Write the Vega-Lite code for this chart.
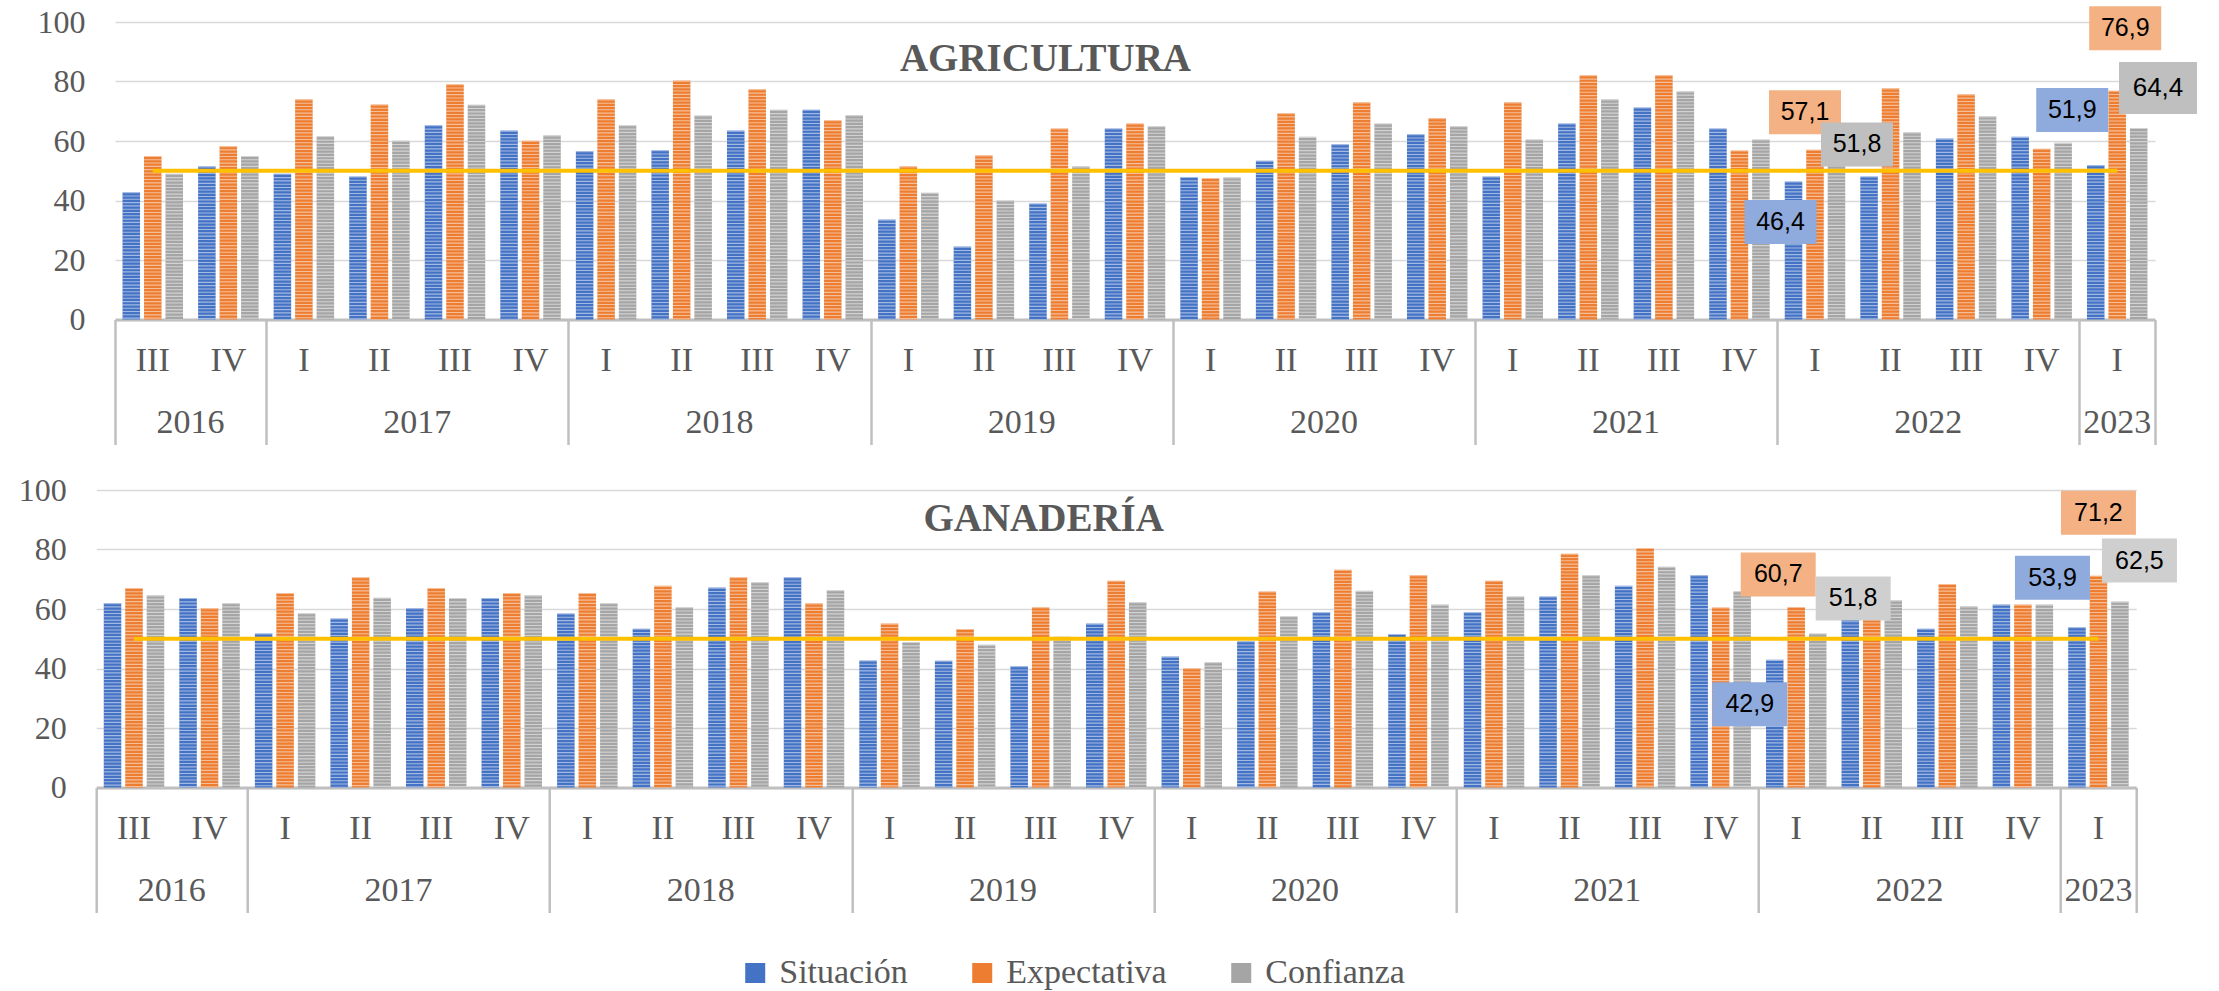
{
  "$schema": "https://vega.github.io/schema/vega-lite/v6.json",
  "background": "white",
  "padding": {"left": 18, "top": 6, "right": 5, "bottom": 0},
  "config": {
    "view": {"stroke": null},
    "locale": {"number": {"decimal": ",", "thousands": ".", "grouping": [3], "currency": ["", " €"]}}
  },
  "data": {"values": [
    {"sector":"Agricultura","q":"2016-III","serie":"Situación","value":42.8},{"sector":"Agricultura","q":"2016-III","serie":"Expectativa","value":55.0},{"sector":"Agricultura","q":"2016-III","serie":"Confianza","value":49.0},
    {"sector":"Agricultura","q":"2016-IV","serie":"Situación","value":51.5},{"sector":"Agricultura","q":"2016-IV","serie":"Expectativa","value":58.3},{"sector":"Agricultura","q":"2016-IV","serie":"Confianza","value":55.0},
    {"sector":"Agricultura","q":"2017-I","serie":"Situación","value":49.0},{"sector":"Agricultura","q":"2017-I","serie":"Expectativa","value":74.0},{"sector":"Agricultura","q":"2017-I","serie":"Confianza","value":61.6},
    {"sector":"Agricultura","q":"2017-II","serie":"Situación","value":48.1},{"sector":"Agricultura","q":"2017-II","serie":"Expectativa","value":72.3},{"sector":"Agricultura","q":"2017-II","serie":"Confianza","value":60.1},
    {"sector":"Agricultura","q":"2017-III","serie":"Situación","value":65.3},{"sector":"Agricultura","q":"2017-III","serie":"Expectativa","value":79.1},{"sector":"Agricultura","q":"2017-III","serie":"Confianza","value":72.2},
    {"sector":"Agricultura","q":"2017-IV","serie":"Situación","value":63.5},{"sector":"Agricultura","q":"2017-IV","serie":"Expectativa","value":60.1},{"sector":"Agricultura","q":"2017-IV","serie":"Confianza","value":61.9},
    {"sector":"Agricultura","q":"2018-I","serie":"Situación","value":56.6},{"sector":"Agricultura","q":"2018-I","serie":"Expectativa","value":74.0},{"sector":"Agricultura","q":"2018-I","serie":"Confianza","value":65.3},
    {"sector":"Agricultura","q":"2018-II","serie":"Situación","value":56.9},{"sector":"Agricultura","q":"2018-II","serie":"Expectativa","value":80.3},{"sector":"Agricultura","q":"2018-II","serie":"Confianza","value":68.6},
    {"sector":"Agricultura","q":"2018-III","serie":"Situación","value":63.5},{"sector":"Agricultura","q":"2018-III","serie":"Expectativa","value":77.4},{"sector":"Agricultura","q":"2018-III","serie":"Confianza","value":70.5},
    {"sector":"Agricultura","q":"2018-IV","serie":"Situación","value":70.5},{"sector":"Agricultura","q":"2018-IV","serie":"Expectativa","value":67.0},{"sector":"Agricultura","q":"2018-IV","serie":"Confianza","value":68.7},
    {"sector":"Agricultura","q":"2019-I","serie":"Situación","value":33.6},{"sector":"Agricultura","q":"2019-I","serie":"Expectativa","value":51.5},{"sector":"Agricultura","q":"2019-I","serie":"Confianza","value":42.6},
    {"sector":"Agricultura","q":"2019-II","serie":"Situación","value":24.5},{"sector":"Agricultura","q":"2019-II","serie":"Expectativa","value":55.2},{"sector":"Agricultura","q":"2019-II","serie":"Confianza","value":40.0},
    {"sector":"Agricultura","q":"2019-III","serie":"Situación","value":39.0},{"sector":"Agricultura","q":"2019-III","serie":"Expectativa","value":64.2},{"sector":"Agricultura","q":"2019-III","serie":"Confianza","value":51.5},
    {"sector":"Agricultura","q":"2019-IV","serie":"Situación","value":64.2},{"sector":"Agricultura","q":"2019-IV","serie":"Expectativa","value":65.9},{"sector":"Agricultura","q":"2019-IV","serie":"Confianza","value":65.0},
    {"sector":"Agricultura","q":"2020-I","serie":"Situación","value":47.9},{"sector":"Agricultura","q":"2020-I","serie":"Expectativa","value":47.6},{"sector":"Agricultura","q":"2020-I","serie":"Confianza","value":47.8},
    {"sector":"Agricultura","q":"2020-II","serie":"Situación","value":53.4},{"sector":"Agricultura","q":"2020-II","serie":"Expectativa","value":69.4},{"sector":"Agricultura","q":"2020-II","serie":"Confianza","value":61.4},
    {"sector":"Agricultura","q":"2020-III","serie":"Situación","value":58.9},{"sector":"Agricultura","q":"2020-III","serie":"Expectativa","value":73.0},{"sector":"Agricultura","q":"2020-III","serie":"Confianza","value":65.9},
    {"sector":"Agricultura","q":"2020-IV","serie":"Situación","value":62.3},{"sector":"Agricultura","q":"2020-IV","serie":"Expectativa","value":67.7},{"sector":"Agricultura","q":"2020-IV","serie":"Confianza","value":65.0},
    {"sector":"Agricultura","q":"2021-I","serie":"Situación","value":48.1},{"sector":"Agricultura","q":"2021-I","serie":"Expectativa","value":73.0},{"sector":"Agricultura","q":"2021-I","serie":"Confianza","value":60.5},
    {"sector":"Agricultura","q":"2021-II","serie":"Situación","value":65.9},{"sector":"Agricultura","q":"2021-II","serie":"Expectativa","value":82.1},{"sector":"Agricultura","q":"2021-II","serie":"Confianza","value":74.0},
    {"sector":"Agricultura","q":"2021-III","serie":"Situación","value":71.3},{"sector":"Agricultura","q":"2021-III","serie":"Expectativa","value":82.1},{"sector":"Agricultura","q":"2021-III","serie":"Confianza","value":76.7},
    {"sector":"Agricultura","q":"2021-IV","serie":"Situación","value":64.2},{"sector":"Agricultura","q":"2021-IV","serie":"Expectativa","value":56.8},{"sector":"Agricultura","q":"2021-IV","serie":"Confianza","value":60.5},
    {"sector":"Agricultura","q":"2022-I","serie":"Situación","value":46.4},{"sector":"Agricultura","q":"2022-I","serie":"Expectativa","value":57.1},{"sector":"Agricultura","q":"2022-I","serie":"Confianza","value":51.8},
    {"sector":"Agricultura","q":"2022-II","serie":"Situación","value":48.1},{"sector":"Agricultura","q":"2022-II","serie":"Expectativa","value":77.7},{"sector":"Agricultura","q":"2022-II","serie":"Confianza","value":62.9},
    {"sector":"Agricultura","q":"2022-III","serie":"Situación","value":60.8},{"sector":"Agricultura","q":"2022-III","serie":"Expectativa","value":75.7},{"sector":"Agricultura","q":"2022-III","serie":"Confianza","value":68.3},
    {"sector":"Agricultura","q":"2022-IV","serie":"Situación","value":61.4},{"sector":"Agricultura","q":"2022-IV","serie":"Expectativa","value":57.4},{"sector":"Agricultura","q":"2022-IV","serie":"Confianza","value":59.4},
    {"sector":"Agricultura","q":"2023-I","serie":"Situación","value":51.9},{"sector":"Agricultura","q":"2023-I","serie":"Expectativa","value":76.9},{"sector":"Agricultura","q":"2023-I","serie":"Confianza","value":64.4},
    {"sector":"Ganadería","q":"2016-III","serie":"Situación","value":62.0},{"sector":"Ganadería","q":"2016-III","serie":"Expectativa","value":67.1},{"sector":"Ganadería","q":"2016-III","serie":"Confianza","value":64.6},
    {"sector":"Ganadería","q":"2016-IV","serie":"Situación","value":63.7},{"sector":"Ganadería","q":"2016-IV","serie":"Expectativa","value":60.3},{"sector":"Ganadería","q":"2016-IV","serie":"Confianza","value":62.0},
    {"sector":"Ganadería","q":"2017-I","serie":"Situación","value":51.8},{"sector":"Ganadería","q":"2017-I","serie":"Expectativa","value":65.4},{"sector":"Ganadería","q":"2017-I","serie":"Confianza","value":58.6},
    {"sector":"Ganadería","q":"2017-II","serie":"Situación","value":56.8},{"sector":"Ganadería","q":"2017-II","serie":"Expectativa","value":70.7},{"sector":"Ganadería","q":"2017-II","serie":"Confianza","value":63.8},
    {"sector":"Ganadería","q":"2017-III","serie":"Situación","value":60.3},{"sector":"Ganadería","q":"2017-III","serie":"Expectativa","value":67.1},{"sector":"Ganadería","q":"2017-III","serie":"Confianza","value":63.7},
    {"sector":"Ganadería","q":"2017-IV","serie":"Situación","value":63.7},{"sector":"Ganadería","q":"2017-IV","serie":"Expectativa","value":65.4},{"sector":"Ganadería","q":"2017-IV","serie":"Confianza","value":64.6},
    {"sector":"Ganadería","q":"2018-I","serie":"Situación","value":58.5},{"sector":"Ganadería","q":"2018-I","serie":"Expectativa","value":65.4},{"sector":"Ganadería","q":"2018-I","serie":"Confianza","value":62.0},
    {"sector":"Ganadería","q":"2018-II","serie":"Situación","value":53.4},{"sector":"Ganadería","q":"2018-II","serie":"Expectativa","value":67.8},{"sector":"Ganadería","q":"2018-II","serie":"Confianza","value":60.6},
    {"sector":"Ganadería","q":"2018-III","serie":"Situación","value":67.2},{"sector":"Ganadería","q":"2018-III","serie":"Expectativa","value":70.7},{"sector":"Ganadería","q":"2018-III","serie":"Confianza","value":69.0},
    {"sector":"Ganadería","q":"2018-IV","serie":"Situación","value":70.7},{"sector":"Ganadería","q":"2018-IV","serie":"Expectativa","value":61.9},{"sector":"Ganadería","q":"2018-IV","serie":"Confianza","value":66.3},
    {"sector":"Ganadería","q":"2019-I","serie":"Situación","value":42.7},{"sector":"Ganadería","q":"2019-I","serie":"Expectativa","value":55.1},{"sector":"Ganadería","q":"2019-I","serie":"Confianza","value":48.9},
    {"sector":"Ganadería","q":"2019-II","serie":"Situación","value":42.6},{"sector":"Ganadería","q":"2019-II","serie":"Expectativa","value":53.3},{"sector":"Ganadería","q":"2019-II","serie":"Confianza","value":48.0},
    {"sector":"Ganadería","q":"2019-III","serie":"Situación","value":40.8},{"sector":"Ganadería","q":"2019-III","serie":"Expectativa","value":60.6},{"sector":"Ganadería","q":"2019-III","serie":"Confianza","value":50.7},
    {"sector":"Ganadería","q":"2019-IV","serie":"Situación","value":55.1},{"sector":"Ganadería","q":"2019-IV","serie":"Expectativa","value":69.5},{"sector":"Ganadería","q":"2019-IV","serie":"Confianza","value":62.3},
    {"sector":"Ganadería","q":"2020-I","serie":"Situación","value":44.0},{"sector":"Ganadería","q":"2020-I","serie":"Expectativa","value":40.1},{"sector":"Ganadería","q":"2020-I","serie":"Confianza","value":42.1},
    {"sector":"Ganadería","q":"2020-II","serie":"Situación","value":49.2},{"sector":"Ganadería","q":"2020-II","serie":"Expectativa","value":65.9},{"sector":"Ganadería","q":"2020-II","serie":"Confianza","value":57.6},
    {"sector":"Ganadería","q":"2020-III","serie":"Situación","value":58.9},{"sector":"Ganadería","q":"2020-III","serie":"Expectativa","value":73.2},{"sector":"Ganadería","q":"2020-III","serie":"Confianza","value":66.1},
    {"sector":"Ganadería","q":"2020-IV","serie":"Situación","value":51.6},{"sector":"Ganadería","q":"2020-IV","serie":"Expectativa","value":71.4},{"sector":"Ganadería","q":"2020-IV","serie":"Confianza","value":61.5},
    {"sector":"Ganadería","q":"2021-I","serie":"Situación","value":58.9},{"sector":"Ganadería","q":"2021-I","serie":"Expectativa","value":69.5},{"sector":"Ganadería","q":"2021-I","serie":"Confianza","value":64.2},
    {"sector":"Ganadería","q":"2021-II","serie":"Situación","value":64.2},{"sector":"Ganadería","q":"2021-II","serie":"Expectativa","value":78.6},{"sector":"Ganadería","q":"2021-II","serie":"Confianza","value":71.4},
    {"sector":"Ganadería","q":"2021-III","serie":"Situación","value":67.8},{"sector":"Ganadería","q":"2021-III","serie":"Expectativa","value":80.5},{"sector":"Ganadería","q":"2021-III","serie":"Confianza","value":74.2},
    {"sector":"Ganadería","q":"2021-IV","serie":"Situación","value":71.4},{"sector":"Ganadería","q":"2021-IV","serie":"Expectativa","value":60.5},{"sector":"Ganadería","q":"2021-IV","serie":"Confianza","value":66.0},
    {"sector":"Ganadería","q":"2022-I","serie":"Situación","value":42.9},{"sector":"Ganadería","q":"2022-I","serie":"Expectativa","value":60.7},{"sector":"Ganadería","q":"2022-I","serie":"Confianza","value":51.8},
    {"sector":"Ganadería","q":"2022-II","serie":"Situación","value":57.0},{"sector":"Ganadería","q":"2022-II","serie":"Expectativa","value":68.8},{"sector":"Ganadería","q":"2022-II","serie":"Confianza","value":62.9},
    {"sector":"Ganadería","q":"2022-III","serie":"Situación","value":53.4},{"sector":"Ganadería","q":"2022-III","serie":"Expectativa","value":68.4},{"sector":"Ganadería","q":"2022-III","serie":"Confianza","value":60.9},
    {"sector":"Ganadería","q":"2022-IV","serie":"Situación","value":61.5},{"sector":"Ganadería","q":"2022-IV","serie":"Expectativa","value":61.5},{"sector":"Ganadería","q":"2022-IV","serie":"Confianza","value":61.5},
    {"sector":"Ganadería","q":"2023-I","serie":"Situación","value":53.9},{"sector":"Ganadería","q":"2023-I","serie":"Expectativa","value":71.2},{"sector":"Ganadería","q":"2023-I","serie":"Confianza","value":62.5}
  ]},
  "columns": 1,
  "center": true,
  "spacing": 28,
  "resolve": {"scale": {"color": "independent"}},
  "concat": [
    {
      "width": 2040, "height": 297.5,
      "transform": [{"filter": "datum.sector == 'Agricultura'"}],
      "resolve": {"axis": {"x": "independent"}},
      "layer": [
        {
          "mark": {"type": "bar"},
          "encoding": {
            "x": {"field": "q", "type": "nominal", "scale": {"domain": ["2016-III","2016-IV","2017-I","2017-II","2017-III","2017-IV","2018-I","2018-II","2018-III","2018-IV","2019-I","2019-II","2019-III","2019-IV","2020-I","2020-II","2020-III","2020-IV","2021-I","2021-II","2021-III","2021-IV","2022-I","2022-II","2022-III","2022-IV","2023-I"], "paddingInner": 0.2, "paddingOuter": 0.1},
              "axis": {"orient": "bottom", "title": null, "domain": true, "domainColor": "#BFBFBF", "domainWidth": 3, "ticks": false, "grid": false, "labelExpr": "split(datum.value, '-')[1]", "labelFont": "Liberation Serif", "labelFontSize": 34, "labelColor": "#595959", "labelAngle": 0, "labelBaseline": "middle", "labelPadding": 40.5, "labelOverlap": false}},
            "xOffset": {"field": "serie", "type": "nominal", "scale": {"domain": ["Situación","Expectativa","Confianza"], "paddingInner": 0.186, "paddingOuter": 0}},
            "y": {"field": "value", "type": "quantitative", "scale": {"domain": [0, 100], "nice": false},
              "axis": {"values": [0,20,40,60,80,100], "grid": true, "gridColor": "#D9D9D9", "gridWidth": 1.5, "domain": false, "ticks": false, "labelFont": "Liberation Serif", "labelFontSize": 32, "labelColor": "#595959", "labelPadding": 30, "title": null}},
            "color": {"field": "serie", "type": "nominal", "scale": {"domain": ["Situación","Expectativa","Confianza"], "range": ["#4472C4","#ED7D31","#A5A5A5"]}, "legend": null}
          }
        },
        {
          "mark": {"type": "rule", "stroke": "white", "strokeWidth": 17.6, "strokeDash": [1.1, 2.2], "strokeOpacity": 0.5},
          "encoding": {
            "x": {"field": "q", "type": "nominal",
              "axis": {"orient": "bottom", "title": null, "domain": false, "ticks": false, "grid": false, "labelExpr": "indexof(['2016-III','2017-II','2018-II','2019-II','2020-II','2021-II','2022-II','2023-I'], datum.value) >= 0 ? split(datum.value, '-')[0] : ''", "labelOffset": {"condition": {"test": "datum.value == '2023-I'", "value": 0}, "value": 37.78}, "labelFont": "Liberation Serif", "labelFontSize": 34, "labelColor": "#595959", "labelAngle": 0, "labelBaseline": "middle", "labelPadding": 102.5, "labelOverlap": false}},
            "xOffset": {"field": "serie", "type": "nominal"},
            "y": {"field": "value", "type": "quantitative",
              "axis": {"values": [0,20,40,60,80,100], "grid": true, "gridColor": "#D9D9D9", "gridWidth": 1.5, "domain": false, "ticks": false, "labelFont": "Liberation Serif", "labelFontSize": 32, "labelColor": "#595959", "labelPadding": 30, "title": null}},
            "y2": {"datum": 0}
          }
        },
        {
          "data": {"values": [{"q": "2016-III", "value": 50}, {"q": "2023-I", "value": 50}]},
          "mark": {"type": "line", "color": "#FFC000", "strokeWidth": 4},
          "encoding": {
            "x": {"field": "q", "type": "nominal",
              "axis": {"orient": "bottom", "title": null, "domain": false, "labels": false, "grid": false, "ticks": true, "bandPosition": 0, "tickOffset": -7.56, "tickSize": 125, "tickWidth": 2.5, "tickColor": "#BFBFBF", "tickOpacity": {"condition": {"test": "indexof(['2016-III','2017-I','2018-I','2019-I','2020-I','2021-I','2022-I','2023-I'], datum.value) >= 0", "value": 1}, "value": 0}}},
            "y": {"field": "value", "type": "quantitative",
              "axis": {"values": [0,20,40,60,80,100], "grid": true, "gridColor": "#D9D9D9", "gridWidth": 1.5, "domain": false, "ticks": false, "labelFont": "Liberation Serif", "labelFontSize": 32, "labelColor": "#595959", "labelPadding": 30, "title": null}}
          }
        },
        {
          "data": {"values": [{"titulo": "AGRICULTURA"}]},
          "mark": {"type": "text", "font": "Liberation Serif", "fontSize": 39, "fontWeight": "bold", "color": "#595959", "align": "center", "baseline": "middle", "dx": -14},
          "encoding": {
            "text": {"field": "titulo", "type": "nominal"},
            "x": {"datum": "2019-III", "type": "nominal", "axis": null},
            "y": {"datum": 87.6, "type": "quantitative",
              "axis": {"values": [0,20,40,60,80,100], "grid": true, "gridColor": "#D9D9D9", "gridWidth": 1.5, "domain": false, "ticks": false, "labelFont": "Liberation Serif", "labelFontSize": 32, "labelColor": "#595959", "labelPadding": 30, "title": null}}
          }
        },
        {
          "encoding": {
            "x": {"field": "q", "type": "nominal",
              "axis": {"orient": "bottom", "title": null, "domain": false, "labels": false, "grid": false, "ticks": true, "bandPosition": 1, "tickOffset": 7.56, "tickSize": 125, "tickWidth": 2.5, "tickColor": "#BFBFBF", "tickOpacity": {"condition": {"test": "datum.value == '2023-I'", "value": 1}, "value": 0}}},
            "xOffset": {"field": "serie", "type": "nominal"},
            "y": {"field": "value", "type": "quantitative",
              "axis": {"values": [0,20,40,60,80,100], "grid": true, "gridColor": "#D9D9D9", "gridWidth": 1.5, "domain": false, "ticks": false, "labelFont": "Liberation Serif", "labelFontSize": 32, "labelColor": "#595959", "labelPadding": 30, "title": null}}
          },
          "layer": [
            {"transform": [{"filter": "datum.q == '2022-I' && datum.serie == 'Situación'"}], "layer": [
              {"mark": {"type": "point", "shape": "M-49,18.5H23V62.5H-49Z", "size": 4, "filled": true, "fill": "#8FAADC", "opacity": 1, "strokeWidth": 0}},
              {"mark": {"type": "text", "dx": -13, "dy": 40.5, "font": "Liberation Sans", "fontSize": 25, "color": "#000000", "align": "center", "baseline": "middle"}, "encoding": {"text": {"field": "value", "type": "quantitative", "format": ".1f"}}}
            ]},
            {"transform": [{"filter": "datum.q == '2022-I' && datum.serie == 'Expectativa'"}], "layer": [
              {"mark": {"type": "point", "shape": "M-46,-59.5H26V-15.5H-46Z", "size": 4, "filled": true, "fill": "#F4B183", "opacity": 1, "strokeWidth": 0}},
              {"mark": {"type": "text", "dx": -10, "dy": -37.5, "font": "Liberation Sans", "fontSize": 25, "color": "#000000", "align": "center", "baseline": "middle"}, "encoding": {"text": {"field": "value", "type": "quantitative", "format": ".1f"}}}
            ]},
            {"transform": [{"filter": "datum.q == '2022-I' && datum.serie == 'Confianza'"}], "layer": [
              {"mark": {"type": "point", "shape": "M-15.5,-43H56.5V1H-15.5Z", "size": 4, "filled": true, "fill": "#BFBFBF", "opacity": 1, "strokeWidth": 0}},
              {"mark": {"type": "text", "dx": 20.5, "dy": -21, "font": "Liberation Sans", "fontSize": 25, "color": "#000000", "align": "center", "baseline": "middle"}, "encoding": {"text": {"field": "value", "type": "quantitative", "format": ".1f"}}}
            ]},
            {"transform": [{"filter": "datum.q == '2023-I' && datum.serie == 'Situación'"}], "layer": [
              {"mark": {"type": "point", "shape": "M-59.5,-77H12.5V-33H-59.5Z", "size": 4, "filled": true, "fill": "#8FAADC", "opacity": 1, "strokeWidth": 0}},
              {"mark": {"type": "text", "dx": -23.5, "dy": -55, "font": "Liberation Sans", "fontSize": 25, "color": "#000000", "align": "center", "baseline": "middle"}, "encoding": {"text": {"field": "value", "type": "quantitative", "format": ".1f"}}}
            ]},
            {"transform": [{"filter": "datum.q == '2023-I' && datum.serie == 'Expectativa'"}], "layer": [
              {"mark": {"type": "point", "shape": "M-28,-84.5H44V-40.5H-28Z", "size": 4, "filled": true, "fill": "#F4B183", "opacity": 1, "strokeWidth": 0}},
              {"mark": {"type": "text", "dx": 8, "dy": -62.5, "font": "Liberation Sans", "fontSize": 25, "color": "#000000", "align": "center", "baseline": "middle"}, "encoding": {"text": {"field": "value", "type": "quantitative", "format": ".1f"}}}
            ]},
            {"transform": [{"filter": "datum.q == '2023-I' && datum.serie == 'Confianza'"}], "layer": [
              {"mark": {"type": "point", "shape": "M-19.7,-66H58.3V-14H-19.7Z", "size": 4, "filled": true, "fill": "#BFBFBF", "opacity": 1, "strokeWidth": 0}},
              {"mark": {"type": "text", "dx": 19.3, "dy": -40, "font": "Liberation Sans", "fontSize": 26, "color": "#000000", "align": "center", "baseline": "middle"}, "encoding": {"text": {"field": "value", "type": "quantitative", "format": ".1f"}}}
            ]}
          ]
        }
      ]
    },
    {
      "width": 2040, "height": 297.5,
      "transform": [{"filter": "datum.sector == 'Ganadería'"}],
      "resolve": {"axis": {"x": "independent"}},
      "layer": [
        {
          "mark": {"type": "bar"},
          "encoding": {
            "x": {"field": "q", "type": "nominal", "scale": {"domain": ["2016-III","2016-IV","2017-I","2017-II","2017-III","2017-IV","2018-I","2018-II","2018-III","2018-IV","2019-I","2019-II","2019-III","2019-IV","2020-I","2020-II","2020-III","2020-IV","2021-I","2021-II","2021-III","2021-IV","2022-I","2022-II","2022-III","2022-IV","2023-I"], "paddingInner": 0.2, "paddingOuter": 0.1},
              "axis": {"orient": "bottom", "title": null, "domain": true, "domainColor": "#BFBFBF", "domainWidth": 3, "ticks": false, "grid": false, "labelExpr": "split(datum.value, '-')[1]", "labelFont": "Liberation Serif", "labelFontSize": 34, "labelColor": "#595959", "labelAngle": 0, "labelBaseline": "middle", "labelPadding": 40.5, "labelOverlap": false}},
            "xOffset": {"field": "serie", "type": "nominal", "scale": {"domain": ["Situación","Expectativa","Confianza"], "paddingInner": 0.186, "paddingOuter": 0}},
            "y": {"field": "value", "type": "quantitative", "scale": {"domain": [0, 100], "nice": false},
              "axis": {"values": [0,20,40,60,80,100], "grid": true, "gridColor": "#D9D9D9", "gridWidth": 1.5, "domain": false, "ticks": false, "labelFont": "Liberation Serif", "labelFontSize": 32, "labelColor": "#595959", "labelPadding": 30, "title": null}},
            "color": {"field": "serie", "type": "nominal", "scale": {"domain": ["Situación","Expectativa","Confianza"], "range": ["#4472C4","#ED7D31","#A5A5A5"]},
              "legend": {"orient": "none", "legendX": 642, "legendY": 466, "direction": "horizontal", "title": null, "symbolType": "square", "symbolSize": 400, "symbolStrokeWidth": 0, "symbolOpacity": 1, "labelFont": "Liberation Serif", "labelFontSize": 34, "labelColor": "#595959", "labelOffset": 7, "labelLimit": 0, "columnPadding": 57, "padding": 0}}
          }
        },
        {
          "mark": {"type": "rule", "stroke": "white", "strokeWidth": 17.6, "strokeDash": [1.1, 2.2], "strokeOpacity": 0.5},
          "encoding": {
            "x": {"field": "q", "type": "nominal",
              "axis": {"orient": "bottom", "title": null, "domain": false, "ticks": false, "grid": false, "labelExpr": "indexof(['2016-III','2017-II','2018-II','2019-II','2020-II','2021-II','2022-II','2023-I'], datum.value) >= 0 ? split(datum.value, '-')[0] : ''", "labelOffset": {"condition": {"test": "datum.value == '2023-I'", "value": 0}, "value": 37.78}, "labelFont": "Liberation Serif", "labelFontSize": 34, "labelColor": "#595959", "labelAngle": 0, "labelBaseline": "middle", "labelPadding": 102.5, "labelOverlap": false}},
            "xOffset": {"field": "serie", "type": "nominal"},
            "y": {"field": "value", "type": "quantitative",
              "axis": {"values": [0,20,40,60,80,100], "grid": true, "gridColor": "#D9D9D9", "gridWidth": 1.5, "domain": false, "ticks": false, "labelFont": "Liberation Serif", "labelFontSize": 32, "labelColor": "#595959", "labelPadding": 30, "title": null}},
            "y2": {"datum": 0}
          }
        },
        {
          "data": {"values": [{"q": "2016-III", "value": 50}, {"q": "2023-I", "value": 50}]},
          "mark": {"type": "line", "color": "#FFC000", "strokeWidth": 4},
          "encoding": {
            "x": {"field": "q", "type": "nominal",
              "axis": {"orient": "bottom", "title": null, "domain": false, "labels": false, "grid": false, "ticks": true, "bandPosition": 0, "tickOffset": -7.56, "tickSize": 125, "tickWidth": 2.5, "tickColor": "#BFBFBF", "tickOpacity": {"condition": {"test": "indexof(['2016-III','2017-I','2018-I','2019-I','2020-I','2021-I','2022-I','2023-I'], datum.value) >= 0", "value": 1}, "value": 0}}},
            "y": {"field": "value", "type": "quantitative",
              "axis": {"values": [0,20,40,60,80,100], "grid": true, "gridColor": "#D9D9D9", "gridWidth": 1.5, "domain": false, "ticks": false, "labelFont": "Liberation Serif", "labelFontSize": 32, "labelColor": "#595959", "labelPadding": 30, "title": null}}
          }
        },
        {
          "data": {"values": [{"titulo": "GANADERÍA"}]},
          "mark": {"type": "text", "font": "Liberation Serif", "fontSize": 39, "fontWeight": "bold", "color": "#595959", "align": "center", "baseline": "middle", "dx": 3},
          "encoding": {
            "text": {"field": "titulo", "type": "nominal"},
            "x": {"datum": "2019-III", "type": "nominal", "axis": null},
            "y": {"datum": 90.4, "type": "quantitative",
              "axis": {"values": [0,20,40,60,80,100], "grid": true, "gridColor": "#D9D9D9", "gridWidth": 1.5, "domain": false, "ticks": false, "labelFont": "Liberation Serif", "labelFontSize": 32, "labelColor": "#595959", "labelPadding": 30, "title": null}}
          }
        },
        {
          "encoding": {
            "x": {"field": "q", "type": "nominal",
              "axis": {"orient": "bottom", "title": null, "domain": false, "labels": true, "labelExpr": "datum.value == '2023-I' ? '.' : ''", "labelAlign": "left", "labelOffset": 107, "labelFontSize": 10, "labelColor": "#FFFFFF", "labelOpacity": 0, "labelOverlap": false, "labelAngle": 0, "grid": false, "ticks": true, "bandPosition": 1, "tickOffset": 7.56, "tickSize": 125, "tickWidth": 2.5, "tickColor": "#BFBFBF", "tickOpacity": {"condition": {"test": "datum.value == '2023-I'", "value": 1}, "value": 0}}},
            "xOffset": {"field": "serie", "type": "nominal"},
            "y": {"field": "value", "type": "quantitative",
              "axis": {"values": [0,20,40,60,80,100], "grid": true, "gridColor": "#D9D9D9", "gridWidth": 1.5, "domain": false, "ticks": false, "labelFont": "Liberation Serif", "labelFontSize": 32, "labelColor": "#595959", "labelPadding": 30, "title": null}}
          },
          "layer": [
            {"transform": [{"filter": "datum.q == '2022-I' && datum.serie == 'Situación'"}], "layer": [
              {"mark": {"type": "point", "shape": "M-62.5,22.5H12.5V66.5H-62.5Z", "size": 4, "filled": true, "fill": "#8FAADC", "opacity": 1, "strokeWidth": 0}},
              {"mark": {"type": "text", "dx": -25, "dy": 44.5, "font": "Liberation Sans", "fontSize": 25, "color": "#000000", "align": "center", "baseline": "middle"}, "encoding": {"text": {"field": "value", "type": "quantitative", "format": ".1f"}}}
            ]},
            {"transform": [{"filter": "datum.q == '2022-I' && datum.serie == 'Expectativa'"}], "layer": [
              {"mark": {"type": "point", "shape": "M-55.5,-54.5H19.5V-10.5H-55.5Z", "size": 4, "filled": true, "fill": "#F4B183", "opacity": 1, "strokeWidth": 0}},
              {"mark": {"type": "text", "dx": -18, "dy": -32.5, "font": "Liberation Sans", "fontSize": 25, "color": "#000000", "align": "center", "baseline": "middle"}, "encoding": {"text": {"field": "value", "type": "quantitative", "format": ".1f"}}}
            ]},
            {"transform": [{"filter": "datum.q == '2022-I' && datum.serie == 'Confianza'"}], "layer": [
              {"mark": {"type": "point", "shape": "M-2,-57H73V-13H-2Z", "size": 4, "filled": true, "fill": "#CFCFCF", "opacity": 1, "strokeWidth": 0}},
              {"mark": {"type": "text", "dx": 35.5, "dy": -35, "font": "Liberation Sans", "fontSize": 25, "color": "#000000", "align": "center", "baseline": "middle"}, "encoding": {"text": {"field": "value", "type": "quantitative", "format": ".1f"}}}
            ]},
            {"transform": [{"filter": "datum.q == '2023-I' && datum.serie == 'Situación'"}], "layer": [
              {"mark": {"type": "point", "shape": "M-62,-71.5H13V-27.5H-62Z", "size": 4, "filled": true, "fill": "#8FAADC", "opacity": 1, "strokeWidth": 0}},
              {"mark": {"type": "text", "dx": -24.5, "dy": -49.5, "font": "Liberation Sans", "fontSize": 25, "color": "#000000", "align": "center", "baseline": "middle"}, "encoding": {"text": {"field": "value", "type": "quantitative", "format": ".1f"}}}
            ]},
            {"transform": [{"filter": "datum.q == '2023-I' && datum.serie == 'Expectativa'"}], "layer": [
              {"mark": {"type": "point", "shape": "M-37.5,-85H37.5V-41H-37.5Z", "size": 4, "filled": true, "fill": "#F4B183", "opacity": 1, "strokeWidth": 0}},
              {"mark": {"type": "text", "dx": 0, "dy": -63, "font": "Liberation Sans", "fontSize": 25, "color": "#000000", "align": "center", "baseline": "middle"}, "encoding": {"text": {"field": "value", "type": "quantitative", "format": ".1f"}}}
            ]},
            {"transform": [{"filter": "datum.q == '2023-I' && datum.serie == 'Confianza'"}], "layer": [
              {"mark": {"type": "point", "shape": "M-18,-63H57V-19H-18Z", "size": 4, "filled": true, "fill": "#CFCFCF", "opacity": 1, "strokeWidth": 0}},
              {"mark": {"type": "text", "dx": 19.5, "dy": -41, "font": "Liberation Sans", "fontSize": 25, "color": "#000000", "align": "center", "baseline": "middle"}, "encoding": {"text": {"field": "value", "type": "quantitative", "format": ".1f"}}}
            ]}
          ]
        }
      ]
    }
  ]
}
